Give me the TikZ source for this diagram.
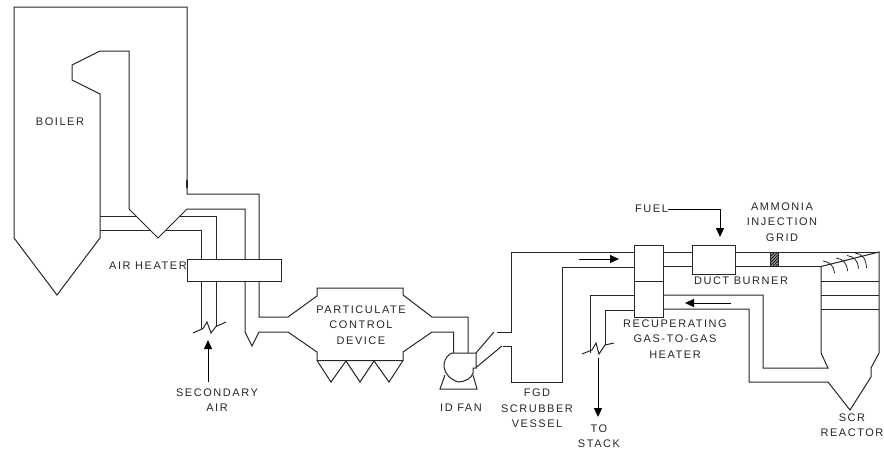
\documentclass[tikz,border=0pt]{standalone}
\usepackage{fontspec}
\setmainfont{Liberation Sans}[LetterSpace=14]
\usetikzlibrary{arrows.meta,patterns}
\tikzset{
  x=1pt,y=-1pt,
  pipe/.style={draw=black!85,line width=1pt,line join=miter},
  flow/.style={draw=black,line width=1pt,-{Triangle[length=9pt,width=8pt]}},
  lab/.style={font=\fontsize{11}{15.3}\selectfont,align=center,text=black!85,inner sep=0pt},
}
\begin{document}
\begin{tikzpicture}
\useasboundingbox (0,0) rectangle (884,451);
% boiler
\draw[pipe] (129,209)--(129,51)--(100,51)--(72,65)--(72,80)--(100,94)--(100,238)--(57,295)--(14,238)--(14,7)--(187,7)--(187,194)--(259,194)--(259,259);
\draw[pipe,line width=1.7pt] (187,180)--(187,188);
\draw[pipe] (129,209)--(158,238)--(187,209)--(245,209)--(245,259);
\draw[pipe] (100,216)--(136,216);
\draw[pipe] (100,230)--(150,230);
\draw[pipe] (180,216)--(216,216)--(216,259);
\draw[pipe] (165,230)--(201.5,230)--(201.5,259);
% air heater
\node[pipe,draw,minimum width=94pt,minimum height=22pt,inner sep=0pt] (ah) at (234,270) {};
\draw[pipe] (201.5,281)--(201.5,329);
\draw[pipe] (216,281)--(216,326);
\draw[pipe] (193,333)--(203,328.5)--(207,322)--(211,333)--(216,326.5)--(226,322);
\draw[pipe] (259,281)--(259,317)--(288,317)--(317,296)--(317,288)--(403,288)--(403,295)--(432,317)--(468,317)--(468,353);
\draw[pipe] (245,281)--(245,332)--(252,346)--(259,332)--(288,332)--(317,352)--(317,360.5)--(403,360.5)--(403,352)--(432,332)--(453.5,332)--(453.5,353);
\draw[pipe] (317,360.5)--(331,382)--(346,361)--(360,382)--(374,361)--(389,382)--(403,360.5);
\coordinate (sa1) at (208,382);\coordinate (sa2) at (208,340);
\draw[flow] (sa1)--(sa2);
% fan
\draw[pipe] (476,353)--(452,353)--(450,354) .. controls (441,360) and (441,376) .. (458,382) .. controls (465,382) and (472,378) .. (473,373)--(473,368)--(476,368)--cycle;
\draw[pipe] (445,375)--(440,389)--(477,389)--(473,375);
\draw[pipe] (476,353)--(494,332);
\draw[pipe] (476,367.5)--(502,346);
\draw[pipe] (497,332)--(511,332)--(511,252)--(634,252);
\draw[pipe] (503,346)--(511,346)--(511,382)--(562,382)--(562,267)--(634,267);
\coordinate (a1) at (579,259);\coordinate (a2) at (619,259);
\draw[flow] (a1)--(a2);
% stack
\draw[pipe] (634,295)--(590,295)--(590,353);
\draw[pipe] (634,310)--(605,310)--(605,345);
\draw[pipe] (582,354)--(592,350)--(596,343)--(599,354)--(605,345)--(614,343);
\coordinate (s1) at (598,358);\coordinate (s2) at (598,417);
\draw[flow] (s1)--(s2);
% heater
\node[pipe,draw,minimum width=29pt,minimum height=72pt,inner sep=0pt] (gh) at (648.5,281) {};
\draw[pipe] (gh.west)--(gh.east);
\draw[pipe] (663,252)--(692,252);
\draw[pipe] (663,266)--(692,266);
% burner
\node[pipe,draw,minimum width=43pt,minimum height=29pt,inner sep=0pt] (db) at (713.5,259.5) {};
\draw[pipe] (735,252)--(879,252);
\draw[pipe] (735,266.5)--(821,266.5);
\fill[black!45] (770,252) rectangle (778,266);
\fill[pattern=north east lines,pattern color=black] (770,252) rectangle (778,266);
\draw[draw=black!85,line width=0.6pt] (770,252) rectangle (778,266);
\coordinate (f0) at (668,209);\coordinate (f1) at (720,209);\coordinate (f2) at (720,237);
\draw[flow] (f0)--(f1)--(f2);
% reactor
\draw[pipe] (821,266.5)--(879,252)--(879,353)--(871,368)--(871,377)--(850,410)--(828,382)--(749,382)--(749,309)--(663,309);
\draw[pipe] (821,266.5)--(821,353)--(828,368)--(763,368)--(763,295)--(663,295);
\draw[pipe] (821,281)--(879,281);
\draw[pipe] (821,295)--(879,295);
\draw[pipe] (821,309)--(879,309);
\coordinate (r1) at (731,303);\coordinate (r2) at (685,303);
\draw[flow] (r1)--(r2);
% spray
\foreach \x/\y/\h in {823/261/12,836/258/13,847/255.5/13,855/253/15}{
 \draw[pipe,line width=0.8pt] (\x,\y) .. controls (\x+7,\y+1) and (\x+11,\y+5) .. (\x+11.5,\y+\h);
}
% labels
\node[lab] (t1) at (60,122) {BOILER};
\node[lab] (t2) at (148,266) {AIR HEATER};
\node[lab] (t3) at (361,325) {PARTICULATE\\CONTROL\\DEVICE};
\node[lab] (t4) at (217,400.5) {SECONDARY\\AIR};
\node[lab] (t5) at (461,408) {ID FAN};
\node[lab] (t6) at (537,408.5) {FGD\\SCRUBBER\\VESSEL};
\node[lab] (t7) at (599,436) {TO\\STACK};
\node[lab,anchor=west] (t8) at (635,209) {FUEL};
\node[lab] (t9) at (782,222) {AMMONIA\\INJECTION\\GRID};
\node[lab] (t10) at (741,281) {DUCT BURNER};
\node[lab] (t11) at (675,339) {RECUPERATING\\GAS-TO-GAS\\HEATER};
\node[lab] (t12) at (852,425.5) {SCR\\REACTOR};
\end{tikzpicture}
\end{document}
